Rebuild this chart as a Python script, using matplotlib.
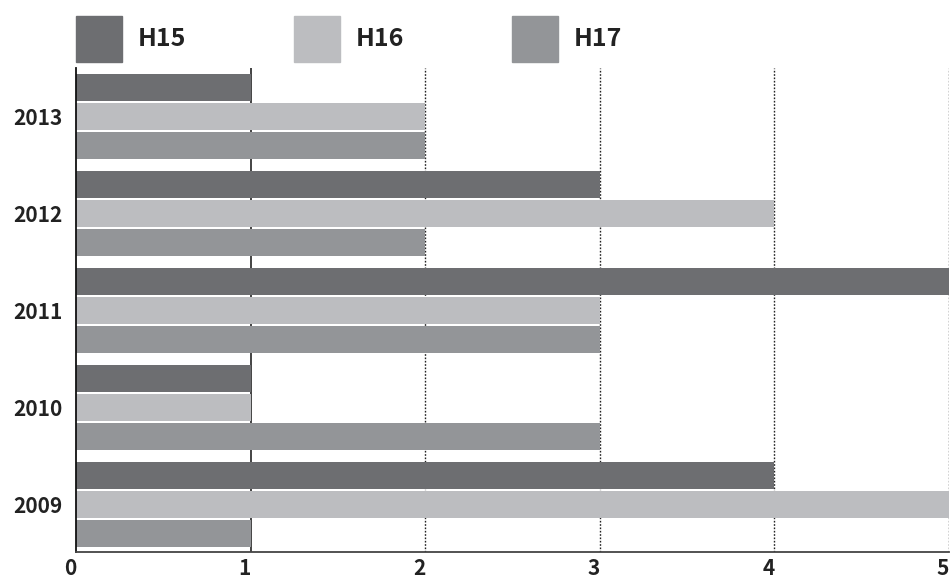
import numpy as np
import matplotlib.pyplot as plt
from matplotlib.patches import Rectangle
from matplotlib.transforms import ScaledTranslation

plt.rcParams['font.family'] = ['Noto Sans CJK JP', 'DejaVu Sans']
plt.rcParams['font.weight'] = 'bold'

years = ['2009', '2010', '2011', '2012', '2013']
series = ['H15', 'H16', 'H17']
h15 = [4, 1, 5, 3, 1]
h16 = [5, 1, 3, 4, 2]
h17 = [1, 3, 3, 2, 2]
colors = ['#6d6e71', '#bcbdc0', '#939598']

fig = plt.figure(figsize=(9.5, 5.82), dpi=100)
ax = fig.add_axes([76 / 950, 1 - 552 / 582, 873 / 950, (552 - 68) / 582])

y = np.arange(len(years))
step = 0.3
height = 0.277
for i, vals in enumerate([h15, h16, h17]):
    ax.barh(y + (1 - i) * step, vals, height=height, color=colors[i], zorder=2)

# vertical guide lines
ax.axvline(1, color='#111111', lw=1.1, zorder=1)
for v in [2, 3, 4, 5]:
    ax.axvline(v, color='#222222', lw=1.0, ls=(0, (1.2, 1.2)), zorder=1)

ax.set_xlim(0, 5)
ax.set_ylim(-0.49, 4.5)
ax.set_yticks(y)
ax.set_yticklabels(years)
ax.set_xticks(range(6))
ax.tick_params(axis='both', length=0, labelsize=15, colors='#222222')
ax.tick_params(axis='y', pad=9.5)
ax.tick_params(axis='x', pad=4)
shift = ScaledTranslation(-6 / 100, 0, fig.dpi_scale_trans)
for lab in ax.get_xticklabels():
    lab.set_transform(lab.get_transform() + shift)
for lab in ax.get_xticklabels() + ax.get_yticklabels():
    lab.set_fontweight('bold')

for s in ['top', 'right']:
    ax.spines[s].set_visible(False)
ax.spines['left'].set_color('#111111')
ax.spines['left'].set_linewidth(1.3)
ax.spines['bottom'].set_color('#444444')
ax.spines['bottom'].set_linewidth(1.3)

# legend drawn as squares along the top
W, H = 950, 582
for i, name in enumerate(series):
    x0 = 76 + i * 218
    fig.patches.append(Rectangle((x0 / W, 1 - 62 / H), 46 / W, 46 / H,
                                 transform=fig.transFigure, color=colors[i]))
    fig.text((x0 + 62) / W, 1 - 39 / H, name, fontsize=18, fontweight='bold',
             va='center', ha='left', color='#222222')

fig.savefig('out.png', dpi=100)
